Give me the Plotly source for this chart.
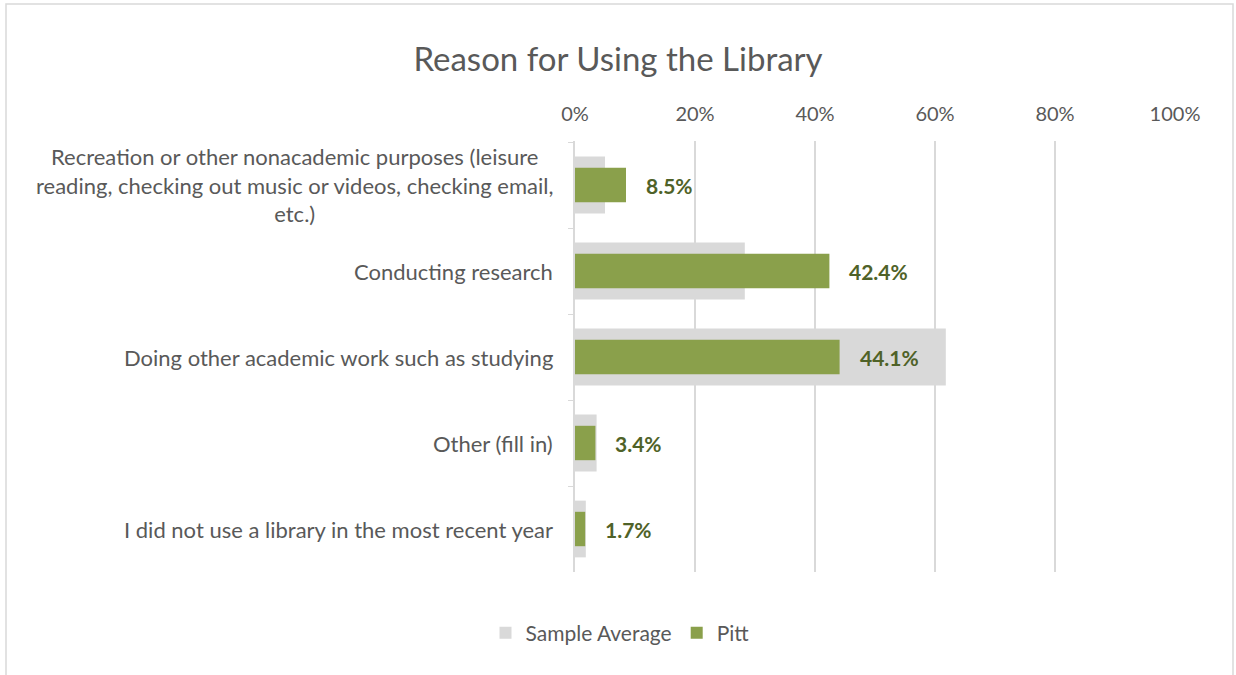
import plotly.graph_objects as go

categories = [
    "Recreation or other nonacademic purposes (leisure<br>reading, checking out music or videos, checking email,<br>etc.)",
    "Conducting research",
    "Doing other academic work such as studying",
    "Other (fill in)",
    "I did not use a library in the most recent year",
]
sample_average = [0.050, 0.283, 0.618, 0.036, 0.018]
pitt = [0.085, 0.424, 0.441, 0.034, 0.017]
pitt_labels = ["8.5%", "42.4%", "44.1%", "3.4%", "1.7%"]
tick_vals = [0, 0.2, 0.4, 0.6, 0.8, 1.0]
tick_text = ["0%", "20%", "40%", "60%", "80%", "100%"]

FONT = "Lato"
GREY_TXT = "#595959"

fig = go.Figure()
fig.add_trace(go.Bar(
    y=categories, x=sample_average, orientation="h", name="Sample Average",
    marker=dict(color="#d9d9d9", line=dict(width=0)), width=0.66,
    hoverinfo="x+y",
))
fig.add_trace(go.Bar(
    y=categories, x=pitt, orientation="h", name="Pitt",
    marker=dict(color="#8aa04b", line=dict(width=0)), width=0.40,
    hoverinfo="x+y",
))

annotations = []
for c, v, t in zip(categories, pitt, pitt_labels):
    annotations.append(dict(
        x=v, y=c, xref="x", yref="y", text=t, showarrow=False,
        xanchor="left", yanchor="middle", xshift=18,
        font=dict(family=FONT, size=21, color="#4f6228", weight="bold"),
    ))
for c in categories:
    annotations.append(dict(
        x=0, y=c, xref="x", yref="y", text=c, showarrow=False,
        xanchor="right", yanchor="middle", xshift=-20, align="center",
        font=dict(family=FONT, size=22, color=GREY_TXT),
    ))

fig.update_layout(
    width=1236, height=675,
    margin=dict(l=575, r=61, t=141, b=103),
    paper_bgcolor="white", plot_bgcolor="white",
    barmode="overlay",
    title=dict(text="Reason for Using the Library", x=0.5, xref="container",
               xanchor="center", y=1 - 59 / 675, yanchor="middle",
               font=dict(family=FONT, size=33, color=GREY_TXT)),
    xaxis=dict(range=[0, 1], side="top", tickvals=tick_vals, ticktext=tick_text,
               showgrid=True, gridcolor="#d9d9d9", gridwidth=1.5,
               zeroline=False, showline=False, ticks="", ticklabelstandoff=15,
               tickfont=dict(family=FONT, size=20, color=GREY_TXT)),
    yaxis=dict(autorange="reversed", showticklabels=False, showline=True,
               linecolor="#d9d9d9", linewidth=1.5, ticks="outside",
               tickson="boundaries", ticklen=5, tickcolor="#d9d9d9",
               showgrid=False, zeroline=False),
    legend=dict(orientation="h", x=0.075, xanchor="center", y=-0.1415,
                yanchor="middle", traceorder="normal",
                font=dict(family=FONT, size=21, color=GREY_TXT)),
    annotations=annotations,
    shapes=[dict(type="rect", xref="paper", yref="paper",
                 x0=(6 - 575) / 600, x1=(1233 - 575) / 600,
                 y0=(572 - 690) / 431, y1=(572 - 4) / 431,
                 line=dict(color="#d9d9d9", width=1.5), fillcolor="rgba(0,0,0,0)",
                 layer="below")],
)

fig.write_html("out.html", config={"displayModeBar": False},
               post_script="document.body.style.margin='0';")
